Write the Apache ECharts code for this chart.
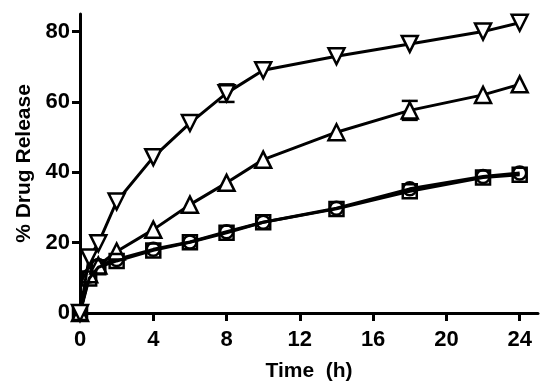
<!DOCTYPE html>
<html>
<head>
<meta charset="utf-8">
<script src="https://cdn.jsdelivr.net/npm/echarts@6/dist/echarts.min.js"></script>
<style>html,body{margin:0;padding:0;background:#fff;}#c{width:550px;height:388px;}</style>
</head>
<body>
<div id="c"></div>
<script>
const times = [0, 0.5, 1, 2, 4, 6, 8, 10, 14, 18, 22, 24];
const invTriangle = [0, 15.8, 19.8, 31.7, 44.3, 54, 62.5, 69, 73, 76.5, 80, 82.5];
const triangleVals = [0, 11, 13.5, 17.5, 23.7, 30.8, 37, 43.6, 51.4, 57.6, 62, 65];
const squareVals = [0, 9.8, 13, 14.8, 17.8, 20.1, 22.8, 25.8, 29.6, 34.6, 38.5, 39.3];
const circleVals = [0, 10.5, 13.5, 15.2, 18.1, 20.2, 23.1, 25.8, 29.8, 35.3, 38.8, 39.8];
const invTriangleErr = [0, 0, 0, 0, 0, 0, 2.5, 0, 0, 0, 0, 0];
const triangleErr = [0, 0, 0, 0, 0, 0, 0, 0, 0, 2.7, 0, 0];
const xTicks = [0, 4, 8, 12, 16, 20, 24];
const yTicks = [0, 20, 40, 60, 80];

const font = 'Liberation Sans, Arial, sans-serif';
const pairs = v => times.map((t, i) => [t, v[i]]);
const errData = [];
times.forEach((t, i) => {
  if (invTriangleErr[i] > 0) errData.push([t, invTriangle[i] - invTriangleErr[i], invTriangle[i] + invTriangleErr[i]]);
  if (triangleErr[i] > 0) errData.push([t, triangleVals[i] - triangleErr[i], triangleVals[i] + triangleErr[i]]);
});

const lineSeries = (data, symbol, size, rotate, fill, z) => ({
  type: 'line', data: pairs(data), symbol: symbol, symbolSize: size, symbolRotate: rotate,
  showAllSymbol: true, z: z,
  lineStyle: { color: '#000', width: 3 },
  itemStyle: { color: fill, borderColor: '#000', borderWidth: 2.5 },
  emphasis: { disabled: true }, animation: false
});

const chart = echarts.init(document.getElementById('c'), null, { renderer: 'canvas' });
chart.setOption({
  animation: false,
  backgroundColor: '#fff',
  grid: { left: 80, right: 12, top: 14, bottom: 75 },
  xAxis: {
    type: 'value', min: 0, max: 25, interval: 4,
    name: 'Time  (h)', nameLocation: 'middle', nameGap: 48,
    nameTextStyle: { fontFamily: font, fontWeight: 'bold', fontSize: 21, color: '#000' },
    axisLine: { onZero: false, lineStyle: { color: '#000', width: 3 } },
    axisTick: { show: true, length: 8, lineStyle: { color: '#000', width: 3 }, customValues: xTicks },
    axisLabel: { margin: 16, fontFamily: font, fontWeight: 'bold', fontSize: 22, color: '#000', customValues: xTicks },
    splitLine: { show: false }
  },
  yAxis: {
    type: 'value', min: 0, max: 85, interval: 20,
    name: '% Drug Release', nameLocation: 'middle', nameGap: 45, nameRotate: 90,
    nameTextStyle: { fontFamily: font, fontWeight: 'bold', fontSize: 21, color: '#000' },
    axisLine: { show: true, onZero: false, lineStyle: { color: '#000', width: 3 } },
    axisTick: { show: true, length: 8, lineStyle: { color: '#000', width: 3 }, customValues: yTicks },
    axisLabel: { margin: 10, fontFamily: font, fontWeight: 'bold', fontSize: 22, color: '#000', customValues: yTicks },
    splitLine: { show: false }
  },
  series: [
    {
      type: 'custom', data: errData, z: 1, animation: false,
      renderItem: (params, api) => {
        const top = api.coord([api.value(0), api.value(2)]);
        const bot = api.coord([api.value(0), api.value(1)]);
        const w = 8;
        const st = { stroke: '#000', lineWidth: 2.5 };
        return { type: 'group', children: [
          { type: 'line', shape: { x1: top[0], y1: top[1], x2: bot[0], y2: bot[1] }, style: st },
          { type: 'line', shape: { x1: top[0] - w, y1: top[1], x2: top[0] + w, y2: top[1] }, style: st },
          { type: 'line', shape: { x1: bot[0] - w, y1: bot[1], x2: bot[0] + w, y2: bot[1] }, style: st }
        ]};
      }
    },
    lineSeries(circleVals, 'circle', 13, 0, 'rgba(255,255,255,0)', 2),
    lineSeries(triangleVals, 'triangle', 16, 0, '#fff', 3),
    lineSeries(squareVals, 'rect', 14, 0, 'rgba(255,255,255,0)', 4),
    lineSeries(invTriangle, 'triangle', 16, 180, '#fff', 5)
  ]
});
</script>
</body>
</html>
